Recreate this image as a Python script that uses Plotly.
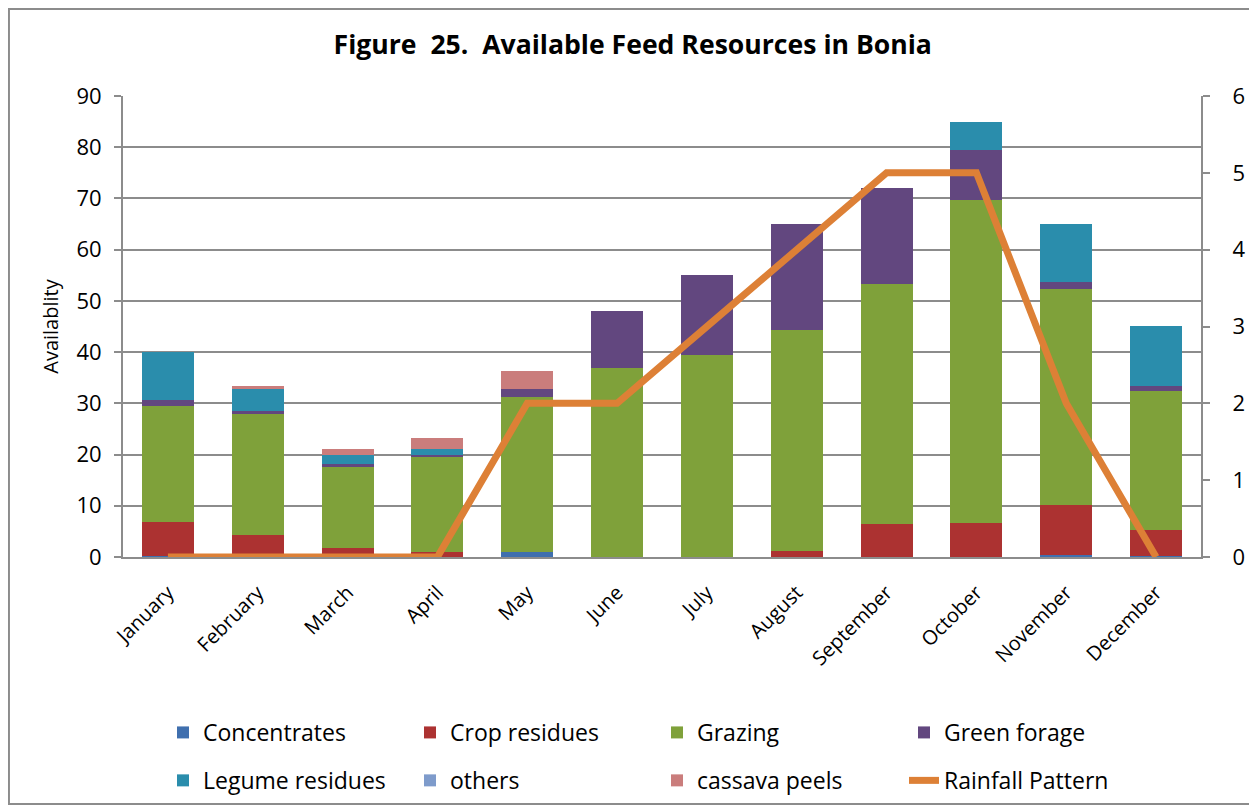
import plotly.graph_objects as go

months = ["January", "February", "March", "April", "May", "June", "July",
          "August", "September", "October", "November", "December"]

concentrates = [0.2, 0.0, 0.0, 0.0, 1.0, 0.0, 0.0, 0.0, 0.0, 0.0, 0.3, 0.2]
crop_residues = [6.7, 4.2, 1.8, 1.0, 0.0, 0.0, 0.0, 1.2, 6.4, 6.6, 9.9, 5.1]
grazing = [22.6, 23.8, 15.8, 18.6, 30.2, 36.9, 39.4, 43.1, 46.9, 63.1, 42.1, 27.1]
green_forage = [1.1, 0.5, 0.6, 0.3, 1.6, 11.1, 15.6, 20.7, 18.7, 9.8, 1.4, 1.0]
legume_residues = [9.4, 4.3, 1.7, 1.2, 0.0, 0.0, 0.0, 0.0, 0.0, 5.4, 11.3, 11.7]
others = [0.0] * 12
cassava_peels = [0.0, 0.6, 1.2, 2.1, 3.6, 0.0, 0.0, 0.0, 0.0, 0.0, 0.0, 0.0]
rainfall = [0, 0, 0, 0, 2, 2, 3, 4, 5, 5, 2, 0]

FONT = "Open Sans"
GRID = "#8C8C8C"

# name, values, colour, which legend row
series = [
    ("Concentrates", concentrates, "#3F6FAE", "legend"),
    ("Crop residues", crop_residues, "#AC3231", "legend"),
    ("Grazing", grazing, "#7FA13A", "legend"),
    ("Green forage", green_forage, "#62477F", "legend"),
    ("Legume residues", legume_residues, "#2A8DAC", "legend2"),
    ("others", others, "#7E9BCB", "legend2"),
    ("cassava peels", cassava_peels, "#CA7D7C", "legend2"),
]

fig = go.Figure()

for name, vals, color, leg in series:
    fig.add_trace(go.Bar(
        x=months, y=vals, name=name, legend=leg,
        marker=dict(color=color, line=dict(width=0)),
    ))

fig.add_trace(go.Scatter(
    x=months, y=rainfall, name="Rainfall Pattern", yaxis="y2", legend="legend2",
    mode="lines", line=dict(color="#DD8036", width=7),
))

# outer chart border (page body adds 8px, so left/top edge sits just inside the figure)
fig.add_shape(type="rect", xref="paper", yref="paper",
              x0=-0.1058, x1=1.0492, y0=-0.5358, y1=1.1887,
              line=dict(color=GRID, width=2), layer="below")

legend_common = dict(
    orientation="h", xanchor="left", yanchor="top", x=0.0371,
    font=dict(size=23), entrywidth=202, entrywidthmode="pixels",
    traceorder="normal", bgcolor="rgba(0,0,0,0)",
)

# figure is taller than the window so the second legend row never pushes the margins
fig.update_layout(
    width=1257, height=830,
    margin=dict(l=115, r=64, t=88, b=281, pad=0),
    paper_bgcolor="white", plot_bgcolor="white",
    barmode="stack", bargap=0.42,
    font=dict(family=FONT, color="black"),
    title=dict(text="Figure\u00a0 25.\u00a0 Available Feed Resources in Bonia",
               x=0.497, xanchor="center", y=0.9554, yanchor="middle",
               font=dict(size=26.6, family=FONT, color="black", weight="bold")),
    xaxis=dict(
        tickangle=-45, tickfont=dict(size=20),
        showline=True, linecolor=GRID, linewidth=2,
        showgrid=False, ticks="outside", ticklen=14, tickcolor="rgba(0,0,0,0)",
    ),
    yaxis=dict(
        range=[0, 90], dtick=10, tickfont=dict(size=22),
        showgrid=True, gridcolor=GRID, gridwidth=2,
        showline=True, linecolor=GRID, linewidth=2,
        ticks="outside", ticklen=7, tickcolor=GRID, tickwidth=2,
        ticklabelstandoff=8,
        title=dict(text="Availablity", font=dict(size=20), standoff=12),
        zeroline=False,
    ),
    yaxis2=dict(
        range=[0, 6], dtick=1, overlaying="y", side="right",
        tickfont=dict(size=22), showgrid=False,
        showline=True, linecolor=GRID, linewidth=2,
        ticks="outside", ticklen=7, tickcolor=GRID, tickwidth=2,
        ticklabelstandoff=18,
        zeroline=False,
    ),
    legend=dict(y=-0.334, **legend_common),
    legend2=dict(y=-0.438, **legend_common),
    showlegend=True,
)

fig.write_html("out.html")
